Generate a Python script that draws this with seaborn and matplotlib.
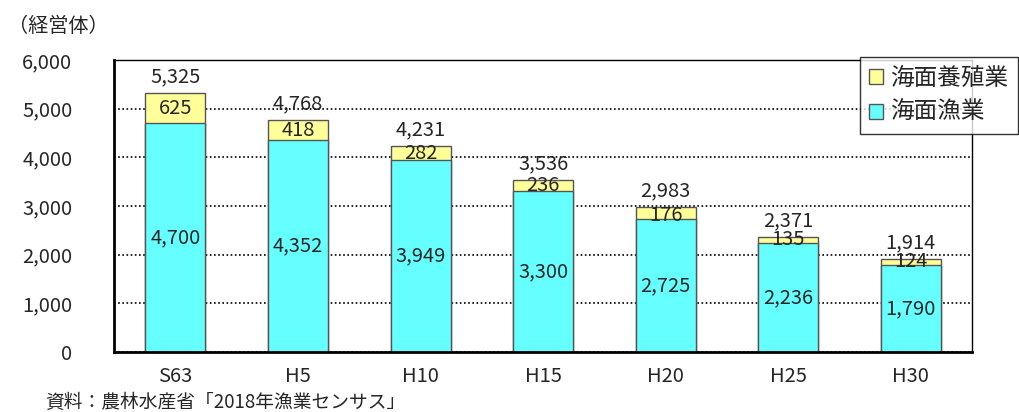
import numpy as np
import pandas as pd
import seaborn as sns
import matplotlib.pyplot as plt
from matplotlib.patches import Patch

years = ["S63", "H5", "H10", "H15", "H20", "H25", "H30"]
fishery = [4700, 4352, 3949, 3300, 2725, 2236, 1790]   # 海面漁業
aquaculture = [625, 418, 282, 236, 176, 135, 124]       # 海面養殖業
totals = [5325, 4768, 4231, 3536, 2983, 2371, 1914]

CYAN = "#66FFFF"
YELLOW = "#FFFF99"

sns.set_style("white")
plt.rcParams['font.family'] = ['Noto Sans CJK JP', 'DejaVu Sans']

df = pd.DataFrame({"year": years, "fishery": fishery,
                   "aqua": aquaculture, "total": totals})

fig = plt.figure(figsize=(10.19, 4.12), dpi=100)
ax = fig.add_axes([0.112, 0.146, 0.842, 0.708])

# grid behind bars
ax.set_axisbelow(True)
ax.yaxis.grid(True, linestyle=(0, (1, 1.5)), color="black", linewidth=1.2)

sns.barplot(data=df, x="year", y="total", color=YELLOW, width=0.49,
            edgecolor="#555555", linewidth=1, saturation=1, ax=ax)
sns.barplot(data=df, x="year", y="fishery", color=CYAN, width=0.49,
            edgecolor="#555555", linewidth=1, saturation=1, ax=ax)

FS = 14.5
for i in range(len(years)):
    ax.text(i, fishery[i] / 2, f"{fishery[i]:,}", ha="center", va="center", fontsize=FS)
    ax.text(i, fishery[i] + aquaculture[i] / 2, f"{aquaculture[i]:,}",
            ha="center", va="center", fontsize=FS)
    ax.annotate(f"{totals[i]:,}", (i, totals[i]), xytext=(0, 4),
                textcoords="offset points", ha="center", va="bottom", fontsize=FS)

ax.set_ylim(0, 6000)
ax.set_xlim(-0.5, len(years) - 0.5)
ax.set_yticks(range(0, 6001, 1000))
ax.set_yticklabels([f"{v:,}" for v in range(0, 6001, 1000)], fontsize=FS)
ax.set_xticks(range(len(years)))
ax.set_xticklabels(years, fontsize=FS)
ax.set_xticks(np.arange(0.5, len(years) - 1, 1), minor=True)
ax.tick_params(axis="x", which="major", length=0, pad=10)
ax.tick_params(axis="x", which="minor", direction="in", length=6, width=1.5, color="black")
ax.tick_params(axis="y", length=0, pad=30)
ax.set_xlabel("")
ax.set_ylabel("")

for side in ["left", "bottom"]:
    ax.spines[side].set_linewidth(2)
    ax.spines[side].set_color("black")
for side in ["top", "right"]:
    ax.spines[side].set_linewidth(1)
    ax.spines[side].set_color("black")

handles = [Patch(facecolor=YELLOW, edgecolor="#555555", label="海面養殖業"),
           Patch(facecolor=CYAN, edgecolor="#555555", label="海面漁業")]
leg = fig.legend(handles=handles, loc="upper left", bbox_to_anchor=(0.832, 0.89),
                 fontsize=17, frameon=True, fancybox=False, handlelength=0.6,
                 handleheight=0.6, handletextpad=0.3, borderpad=0.4, labelspacing=0.5)
leg.get_frame().set_edgecolor("black")
leg.get_frame().set_linewidth(1)

fig.text(0.008, 0.935, "（経営体）", fontsize=14.5, ha="left", va="center")
fig.text(0.044, 0.024, "資料：農林水産省「2018年漁業センサス」", fontsize=13.5,
         ha="left", va="center")

fig.savefig("out.png", dpi=100)
